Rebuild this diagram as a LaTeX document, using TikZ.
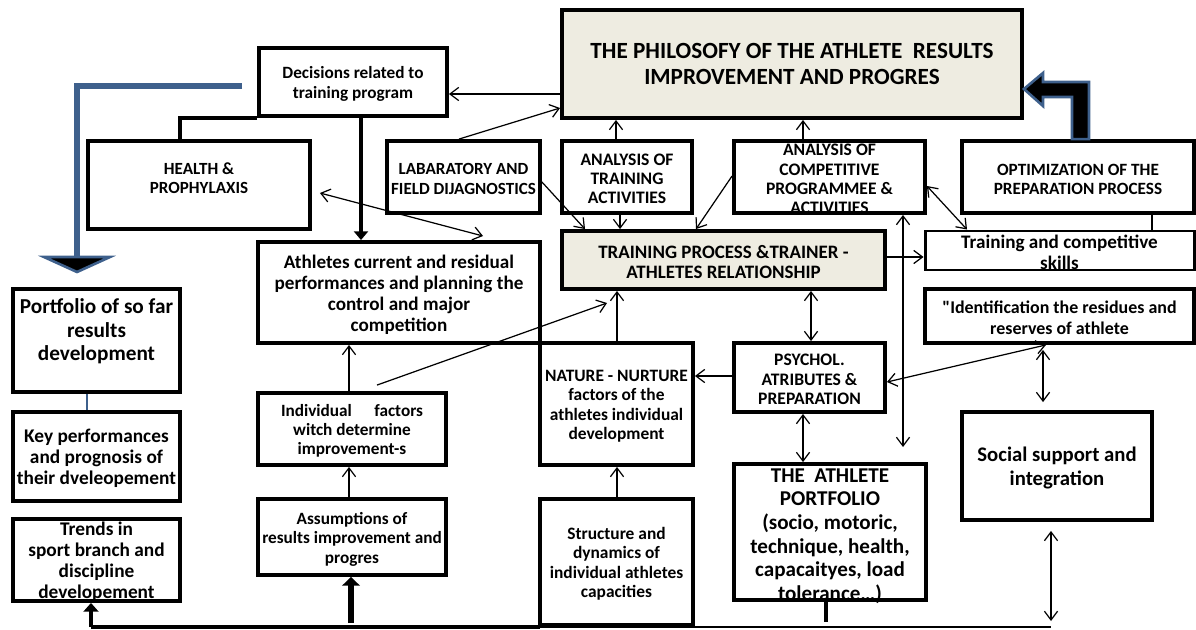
\documentclass[tikz,border=0pt]{standalone}
\usepackage{fontspec}
\setmainfont{Carlito}[Ligatures=TeXOff]
\usetikzlibrary{arrows.meta, calc}
\definecolor{paper}{RGB}{238,236,225}
\definecolor{officeblue}{RGB}{62,96,140}
\tikzset{
  box/.style={draw, line width=2.2pt, inner sep=0pt},
  corners/.style n args={4}{at={({(#1+#3)/2},{(#2+#4)/2})}, minimum width={(#3-#1)*0.02cm}, minimum height={(#4-#2)*0.02cm}},
  txt/.style 2 args={align=center, inner sep=0pt, yshift=-0.04cm, font=\bfseries\fontsize{#1}{#2}\selectfont},
  arr/.style={line width=0.7pt, -{Straight Barb[length=5pt,width=7.5pt]}},
  darr/.style={line width=0.7pt, {Straight Barb[length=5pt,width=7.5pt]}-{Straight Barb[length=5pt,width=7.5pt]}},
  fat/.style 2 args={line width=#1, -{Triangle[length=5pt,width=#2]}},
}
\begin{document}
\begin{tikzpicture}[x=0.02cm, y=-0.02cm]
  \useasboundingbox (0,0) rectangle (1196,629);
  \node[box, fill=paper, corners={562}{10}{1022}{118}] (phil) {};
  \node[box, corners={259}{48}{447}{116}] (dec) {};
  \node[box, corners={88}{141}{310}{229}] (health) {};
  \node[box, corners={387}{141}{540}{213}] (lab) {};
  \node[box, corners={562}{141}{692}{213}] (anatr) {};
  \node[box, corners={734}{141}{925}{213}] (ancomp) {};
  \node[box, corners={962}{141}{1194}{213}] (optim) {};
  \node[box, fill=paper, corners={562}{231}{885}{289}] (train) {};
  \node[box, line width=1.7pt, corners={925}{231}{1194}{270}] (skills) {};
  \node[box, corners={925}{289}{1194}{343}] (ident) {};
  \node[box, corners={258}{242}{540}{343}] (cur) {};
  \node[box, corners={13}{289}{180}{392}] (port) {};
  \node[box, corners={13}{412}{180}{501}] (key) {};
  \node[box, corners={13}{519}{180}{601}] (tre) {};
  \node[box, corners={258}{393}{446}{465}] (ind) {};
  \node[box, corners={258}{499}{446}{575}] (ass) {};
  \node[box, corners={540}{343}{693}{465}] (nat) {};
  \node[box, corners={540}{499}{693}{625}] (str) {};
  \node[box, corners={734}{343}{885}{412}] (psy) {};
  \node[box, corners={734}{464}{926}{600}] (ath) {};
  \node[box, corners={962}{412}{1152}{520}] (soc) {};

  \node[txt={13.2}{14.3}, yshift=0.04cm] (phil-t) at (phil) {THE PHILOSOFY OF THE ATHLETE\ \ RESULTS\\IMPROVEMENT AND PROGRES};
  \node[txt={9.8}{11.4}] (dec-t) at (dec) {Decisions related to\\training program};
  \node[txt={9.7}{10.8}, yshift=0.18cm] (health-t) at (health) {HEALTH \&\\PROPHYLAXIS};
  \node[txt={9.7}{11.4}] (lab-t) at (lab) {LABARATORY AND\\FIELD DIJAGNOSTICS};
  \node[txt={10}{10.8}] (anatr-t) at (anatr) {ANALYSIS OF\\TRAINING\\ACTIVITIES};
  \node[txt={10}{11}] (ancomp-t) at (ancomp) {ANALYSIS OF\\COMPETITIVE\\PROGRAMMEE \&\\ACTIVITIES};
  \node[txt={9.8}{10.8}] (optim-t) at (optim) {OPTIMIZATION OF THE\\PREPARATION PROCESS};
  \node[txt={10.8}{11.9}] (train-t) at (train) {TRAINING PROCESS \&TRAINER -\\ATHLETES RELATIONSHIP};
  \node[txt={10.9}{11.9}] (skills-t) at (skills) {Training and competitive\\skills};
  \node[txt={10.2}{11.9}] (ident-t) at (ident) {"Identification the residues and\\reserves of athlete};
  \node[txt={10.9}{11.9}] (cur-t) at (cur) {Athletes current and residual\\performances and planning the\\control and major\\competition};
  \node[txt={12.1}{13.4}, yshift=0.22cm] (port-t) at (port) {Portfolio of so far\\results\\development};
  \node[txt={11}{11.9}] (key-t) at (key) {Key performances\\and prognosis of\\their dveleopement};
  \node[txt={11}{11.9}] (tre-t) at (tre) {Trends in\\sport branch and\\discipline\\developement};
  \node[txt={9.8}{10.8}] (ind-t) at (ind) {Individual\hspace{1.3em}factors\\witch determine\\improvement-s};
  \node[txt={9.8}{11.1}] (ass-t) at (ass) {Assumptions of\\results improvement and\\progres};
  \node[txt={9.9}{11.1}] (nat-t) at (nat) {NATURE - NURTURE\\factors of the\\athletes individual\\development};
  \node[txt={9.9}{11.1}] (str-t) at (str) {Structure and\\dynamics of\\individual athletes\\capacities};
  \node[txt={10}{11.1}] (psy-t) at (psy) {PSYCHOL.\\ATRIBUTES \&\\PREPARATION};
  \node[txt={12}{13.4}, yshift=-0.04cm] (ath-t) at (ath) {THE\ \ ATHLETE\\PORTFOLIO\\(socio, motoric,\\technique, health,\\capacaityes, load\\tolerance…)};
  \node[txt={11.8}{13.4}] (soc-t) at (soc) {Social support and\\integration};

  \coordinate (bstart) at (242,86);
  \coordinate (bend) at (77,257);
  \coordinate (indend) at (607,303);
  \coordinate (longend) at (903,447);
  \coordinate (bl) at (91,627);
  \coordinate (bm) at (540,627);
  \coordinate (br) at (1051,627);

  \draw[line width=2.2pt] (180,0 |- health.north) |- (dec.south west);
  \draw[line width=1.5pt] (1152,0 |- optim.south) -- (1152,0 |- skills.north);
  \draw[officeblue, line width=0.7pt] (87,0 |- port.south) -- (87,0 |- key.north);
  \draw[officeblue, line width=3pt] (bstart) -| (bend);
  \filldraw[draw=officeblue, fill=black, line width=1.5pt] ($(bend)+(-33,0)$) -- ($(bend)+(33,0)$) -- ($(bend)+(0,15)$) -- cycle;
  \filldraw[draw=officeblue, fill=black, line width=1.5pt] (1072,0 |- optim.north) -- (1072,97) -- (1043,97) -- (1043,106) -- (phil.east |- 0,89) -- (1043,73) -- (1043,82) -- (1089,82) -- (1089,0 |- optim.north) -- cycle;

  \draw[arr] (phil.west |- 0,94) -- (dec.east |- 0,94);
  \draw[arr] (459,0 |- lab.north) -- (phil.west |- 0,108);
  \draw[arr] (lab.east |- 0,182) -- (585,0 |- train.north);
  \draw[darr] ($(health.east |- 0,193)+(8,0)$) -- (483,236);
  \draw[fat={2.8pt}{8pt}] (361,0 |- dec.south) -- (361,0 |- cur.north);
  \draw[arr] (616,0 |- anatr.north) -- (616,0 |- phil.south);
  \draw[arr] (803,0 |- ancomp.north) -- (803,0 |- phil.south);
  \draw[arr] (620,0 |- anatr.south) -- (620,0 |- train.north);
  \draw[arr] (ancomp.west |- 0,176) -- (696,0 |- train.north);
  \draw[darr] (ancomp.east |- 0,186) -- (967,0 |- skills.north);
  \draw[arr] (train.east |- 0,257) -- (skills.west |- 0,257);
  \draw[darr] (903,0 |- ancomp.south) -- (longend);
  \draw[darr] (811,0 |- train.south) -- (811,0 |- psy.north);
  \draw[arr] (psy.west |- 0,376) -- (nat.east |- 0,376);
  \draw[darr] (1046,0 |- ident.south) -- (psy.east |- 0,382);
  \draw[darr] ($(1043,0 |- ident.south)+(0,5)$) -- ($(1043,0 |- soc.north)+(0,-8)$);
  \draw[darr] (803,0 |- psy.south) -- (803,0 |- ath.north);
  \draw[darr] ($(1051,0 |- soc.south)+(0,9)$) -- ($(br)+(0,-6)$);
  \draw[arr] (617,0 |- nat.north) -- (617,0 |- train.south);
  \draw[arr] (617,0 |- str.north) -- (617,0 |- nat.south);
  \draw[arr] (349,0 |- ind.north) -- (349,0 |- cur.south);
  \draw[arr] ($(377,0 |- ind.north)+(0,-6)$) -- (indend);
  \draw[arr] (349,0 |- ass.north) -- (349,0 |- ind.south);

  \draw[line width=2.2pt] (bl) -- (bm);
  \draw[line width=1pt] (bm) -- (br);
  \draw[fat={2.6pt}{8.5pt}] (bl) -- (91,0 |- tre.south);
  \draw[fat={3.8pt}{10pt}] ($(351,0 |- bl)+(0,-4)$) -- (351,0 |- ass.south);
  \draw[line width=1.8pt] (826,0 |- ath.south) -- (826,622);
\end{tikzpicture}
\end{document}
